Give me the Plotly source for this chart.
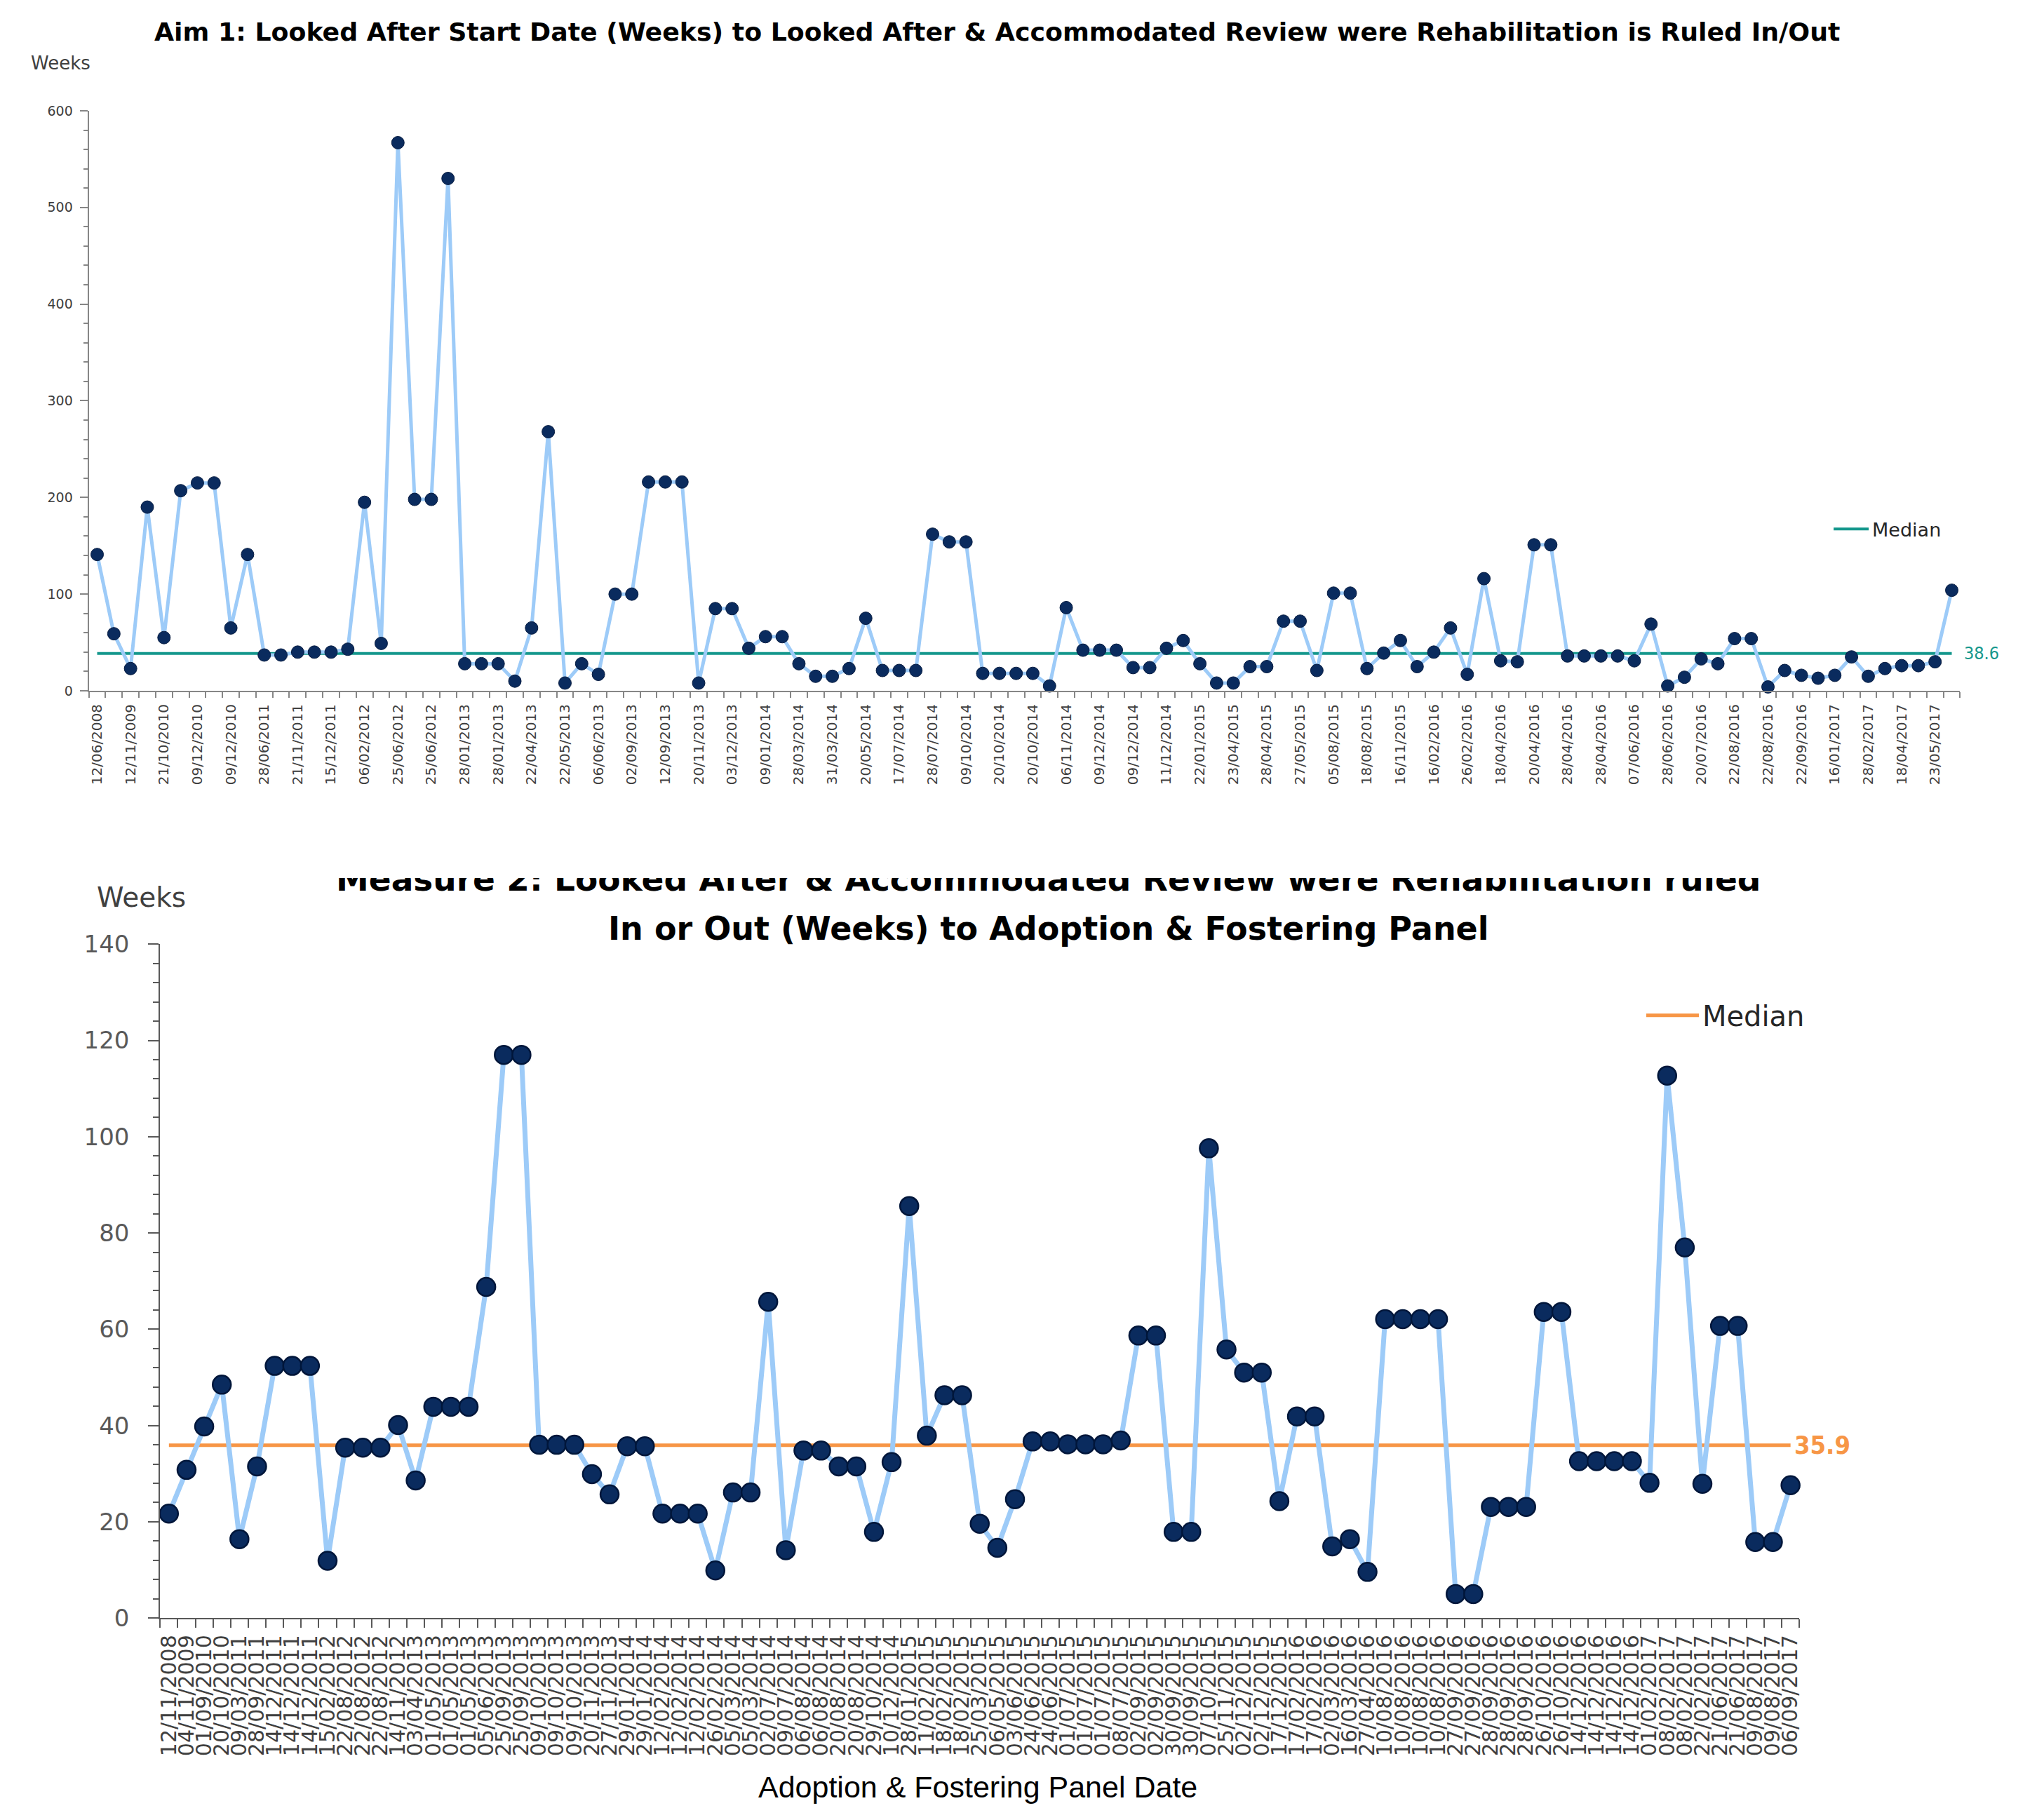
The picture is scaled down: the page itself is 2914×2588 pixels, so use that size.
import plotly.graph_objects as go

W, H = 2914, 2588

# ---------------- data ----------------
top_dates = [
    "12/06/2008", "12/11/2009", "21/10/2010", "09/12/2010", "09/12/2010", "28/06/2011",
    "21/11/2011", "15/12/2011", "06/02/2012", "25/06/2012", "25/06/2012", "28/01/2013",
    "28/01/2013", "22/04/2013", "22/05/2013", "06/06/2013", "02/09/2013", "12/09/2013",
    "20/11/2013", "03/12/2013", "09/01/2014", "28/03/2014", "31/03/2014", "20/05/2014",
    "17/07/2014", "28/07/2014", "09/10/2014", "20/10/2014", "20/10/2014", "06/11/2014",
    "09/12/2014", "09/12/2014", "11/12/2014", "22/01/2015", "23/04/2015", "28/04/2015",
    "27/05/2015", "05/08/2015", "18/08/2015", "16/11/2015", "16/02/2016", "26/02/2016",
    "18/04/2016", "20/04/2016", "28/04/2016", "28/04/2016", "07/06/2016", "28/06/2016",
    "20/07/2016", "22/08/2016", "22/08/2016", "22/09/2016", "16/01/2017", "28/02/2017",
    "18/04/2017", "23/05/2017",
]
top_values = [
    141, 59, 23, 190, 55, 207, 215, 215, 65, 141,
    37, 37, 40, 40, 40, 43, 195, 49, 567, 198,
    198, 530, 28, 28, 28, 10, 65, 268, 8, 28,
    17, 100, 100, 216, 216, 216, 8, 85, 85, 44,
    56, 56, 28, 15, 15, 23, 75, 21, 21, 21,
    162, 154, 154, 18, 18, 18, 18, 5, 86, 42,
    42, 42, 24, 24, 44, 52, 28, 8, 8, 25,
    25, 72, 72, 21, 101, 101, 23, 39, 52, 25,
    40, 65, 17, 116, 31, 30, 151, 151, 36, 36,
    36, 36, 31, 69, 5, 14, 33, 28, 54, 54,
    4, 21, 16, 13, 16, 35, 15, 23, 26, 26,
    30, 104,
]
top_median = 38.6

bot_dates = [
    "12/11/2008", "04/11/2009", "01/09/2010", "20/10/2010", "09/03/2011", "28/09/2011",
    "14/12/2011", "14/12/2011", "14/12/2011", "15/02/2012", "22/08/2012", "22/08/2012",
    "22/08/2012", "14/11/2012", "03/04/2013", "01/05/2013", "01/05/2013", "01/05/2013",
    "05/06/2013", "25/09/2013", "25/09/2013", "09/10/2013", "09/10/2013", "09/10/2013",
    "20/11/2013", "27/11/2013", "29/01/2014", "29/01/2014", "12/02/2014", "12/02/2014",
    "12/02/2014", "26/02/2014", "05/03/2014", "05/03/2014", "02/07/2014", "09/07/2014",
    "06/08/2014", "06/08/2014", "20/08/2014", "20/08/2014", "29/10/2014", "10/12/2014",
    "28/01/2015", "11/02/2015", "18/02/2015", "18/02/2015", "25/03/2015", "06/05/2015",
    "03/06/2015", "24/06/2015", "24/06/2015", "01/07/2015", "01/07/2015", "01/07/2015",
    "08/07/2015", "02/09/2015", "02/09/2015", "30/09/2015", "30/09/2015", "07/10/2015",
    "25/11/2015", "02/12/2015", "02/12/2015", "17/12/2015", "17/02/2016", "17/02/2016",
    "02/03/2016", "16/03/2016", "27/04/2016", "10/08/2016", "10/08/2016", "10/08/2016",
    "10/08/2016", "27/09/2016", "27/09/2016", "28/09/2016", "28/09/2016", "28/09/2016",
    "26/10/2016", "26/10/2016", "14/12/2016", "14/12/2016", "14/12/2016", "14/12/2016",
    "01/02/2017", "08/02/2017", "08/02/2017", "22/02/2017", "21/06/2017", "21/06/2017",
    "09/08/2017", "09/08/2017", "06/09/2017",
]
bot_values = [
    21.7, 30.8, 39.8, 48.5, 16.4, 31.5, 52.4, 52.4, 52.4, 11.9,
    35.4, 35.4, 35.4, 40.1, 28.6, 43.9, 43.9, 43.9, 68.8, 117,
    117, 36.0, 36.0, 36.0, 29.9, 25.7, 35.7, 35.7, 21.7, 21.7,
    21.7, 9.9, 26.1, 26.1, 65.7, 14.1, 34.8, 34.8, 31.5, 31.5,
    17.9, 32.4, 85.6, 37.9, 46.3, 46.3, 19.6, 14.6, 24.7, 36.7,
    36.7, 36.1, 36.1, 36.1, 36.9, 58.7, 58.7, 17.9, 17.9, 97.6,
    55.8, 51.0, 51.0, 24.3, 41.9, 41.9, 14.9, 16.4, 9.6, 62.1,
    62.1, 62.1, 62.1, 5.0, 5.0, 23.1, 23.1, 23.1, 63.6, 63.6,
    32.6, 32.6, 32.6, 32.6, 28.1, 112.7, 77.0, 27.9, 60.7, 60.7,
    15.8, 15.8, 27.6,
]
bot_median = 35.9

top_x = list(range(1, len(top_values) + 1))
bot_x = list(range(1, len(bot_values) + 1))

# ---------------- styles ----------------
FONT = "DejaVu Sans"
LINE = "#9DCBF8"
NAVY = "#0A2B5E"
TEAL = "#14978C"
ORANGE = "#F79646"


def fx(p):
    return p / W


def fy(p):
    return 1 - p / H


fig = go.Figure()

fig.add_trace(go.Scatter(
    x=[top_x[0], top_x[-1]], y=[top_median, top_median], mode="lines",
    line=dict(color=TEAL, width=4), name="Median", legend="legend",
    xaxis="x", yaxis="y", hoverinfo="skip"))
fig.add_trace(go.Scatter(
    x=top_x, y=top_values, mode="lines+markers",
    line=dict(color=LINE, width=5),
    marker=dict(color=NAVY, size=18, line=dict(color="#061B40", width=1)),
    showlegend=False, xaxis="x", yaxis="y", cliponaxis=False))

fig.add_trace(go.Scatter(
    x=[bot_x[0], bot_x[-1]], y=[bot_median, bot_median], mode="lines",
    line=dict(color=ORANGE, width=5), name="Median", legend="legend2",
    xaxis="x2", yaxis="y2", hoverinfo="skip"))
fig.add_trace(go.Scatter(
    x=bot_x, y=bot_values, mode="lines+markers",
    line=dict(color=LINE, width=7),
    marker=dict(color=NAVY, size=26, line=dict(color="#00163A", width=2.5)),
    showlegend=False, xaxis="x2", yaxis="y2", cliponaxis=False))

AX_TOP = "#868686"
AX_BOT = "#595959"

fig.update_layout(
    width=W, height=H,
    margin=dict(l=0, r=0, t=0, b=0),
    paper_bgcolor="white", plot_bgcolor="white",
    font=dict(family=FONT, color="#404040"),
    xaxis=dict(
        domain=[fx(113), fx(2790)], anchor="y",
        range=[0.5, len(top_values) + 0.5],
        tickmode="array", tickvals=top_x[::2], ticktext=top_dates,
        tickangle=-90, tickfont=dict(family=FONT, size=20, color="#404040"),
        ticks="outside", ticklen=9, tickcolor="rgba(0,0,0,0)",
        showline=True, linecolor=AX_TOP, linewidth=2,
        showgrid=False, zeroline=False,
        minor=dict(tickmode="array",
                   tickvals=[i + 0.5 for i in range(0, len(top_values) + 1)],
                   ticks="outside", ticklen=8, tickwidth=2, tickcolor=AX_TOP),
    ),
    yaxis=dict(
        domain=[fy(972), fy(132)], anchor="x",
        range=[0, 600], dtick=100, tick0=0,
        tickfont=dict(family=FONT, size=19, color="#404040"),
        ticks="outside", ticklen=11, tickwidth=2, tickcolor=AX_TOP,
        ticklabelstandoff=6,
        showline=True, linecolor=AX_TOP, linewidth=2,
        showgrid=False, zeroline=False,
        minor=dict(dtick=20, ticks="outside", ticklen=6, tickwidth=2, tickcolor=AX_TOP),
    ),
    xaxis2=dict(
        domain=[fx(215), fx(2560)], anchor="y2",
        range=[0.5, len(bot_values) + 0.5],
        tickmode="array", tickvals=bot_x, ticktext=bot_dates,
        tickangle=-90, tickfont=dict(family=FONT, size=30, color="#404040"),
        ticks="outside", ticklen=10, tickcolor="rgba(0,0,0,0)",
        showline=True, linecolor=AX_BOT, linewidth=2,
        showgrid=False, zeroline=False,
        minor=dict(tickmode="array",
                   tickvals=[i + 0.5 for i in range(0, len(bot_values) + 1)],
                   ticks="outside", ticklen=12, tickwidth=2, tickcolor=AX_BOT),
    ),
    yaxis2=dict(
        domain=[fy(2315), fy(1339)], anchor="x2",
        range=[0, 140], dtick=20, tick0=0,
        tickfont=dict(family=FONT, size=34, color="#595959"),
        ticks="outside", ticklen=15, tickwidth=2, tickcolor=AX_BOT,
        ticklabelstandoff=20,
        showline=True, linecolor=AX_BOT, linewidth=2,
        showgrid=False, zeroline=False,
        minor=dict(dtick=4, ticks="outside", ticklen=8, tickwidth=2, tickcolor=AX_BOT),
    ),
    legend=dict(
        x=fx(2604), y=fy(738), xanchor="left", yanchor="middle",
        font=dict(family=FONT, size=27, color="#262626"),
        bgcolor="rgba(0,0,0,0)", itemwidth=50,
    ),
    legend2=dict(
        x=fx(2336), y=fy(1442), xanchor="left", yanchor="middle",
        font=dict(family=FONT, size=40, color="#262626"),
        bgcolor="rgba(0,0,0,0)", itemwidth=75,
    ),
)

annotations = [
    dict(text="<b>Aim 1: Looked After Start Date (Weeks) to Looked After &amp; Accommodated Review were Rehabilitation is Ruled In/Out</b>",
         x=fx(1412), y=fy(18), xref="paper", yref="paper", xanchor="center", yanchor="middle",
         showarrow=False, font=dict(family=FONT, size=36.3, color="black")),
    dict(text="Weeks", x=fx(28), y=fy(63), xref="paper", yref="paper",
         xanchor="left", yanchor="middle", showarrow=False,
         font=dict(family=FONT, size=26, color="#404040")),
    dict(text=str(top_median), x=fx(2794), y=top_median, xref="paper", yref="y",
         xanchor="left", yanchor="middle", showarrow=False,
         font=dict(family="DejaVu Sans Condensed", size=25, color=TEAL)),
    dict(text="<b>Measure 2: Looked After &amp; Accommodated Review were Rehabilitation ruled</b>",
         x=fx(1486), y=fy(1245), xref="paper", yref="paper", xanchor="center", yanchor="middle",
         showarrow=False, font=dict(family=FONT, size=47, color="black")),
    # the reference chart's first title line is cut off at the top by the chart frame
    dict(text=" ", x=fx(1490), y=fy(1211), xref="paper", yref="paper",
         xanchor="center", yanchor="middle", showarrow=False,
         width=2200, height=64, bgcolor="white", borderpad=0, borderwidth=0,
         font=dict(family=FONT, size=10, color="white")),
    dict(text="<b>In or Out (Weeks) to Adoption &amp; Fostering Panel</b>",
         x=fx(1486), y=fy(1316), xref="paper", yref="paper", xanchor="center", yanchor="middle",
         showarrow=False, font=dict(family=FONT, size=46, color="black")),
    dict(text="Weeks", x=fx(122), y=fy(1271), xref="paper", yref="paper",
         xanchor="left", yanchor="middle", showarrow=False,
         font=dict(family=FONT, size=39, color="#404040")),
    dict(text="<b>" + str(bot_median) + "</b>", x=fx(2551), y=bot_median, xref="paper", yref="y2",
         xanchor="left", yanchor="middle", showarrow=False,
         font=dict(family="DejaVu Sans Condensed", size=36, color=ORANGE)),
    dict(text="Adoption &amp; Fostering Panel Date", x=fx(1385), y=fy(2560), xref="paper", yref="paper",
         xanchor="center", yanchor="middle", showarrow=False,
         font=dict(family="Liberation Sans", size=43, color="black")),
]
fig.update_layout(annotations=annotations)

fig.write_html("out.html")
